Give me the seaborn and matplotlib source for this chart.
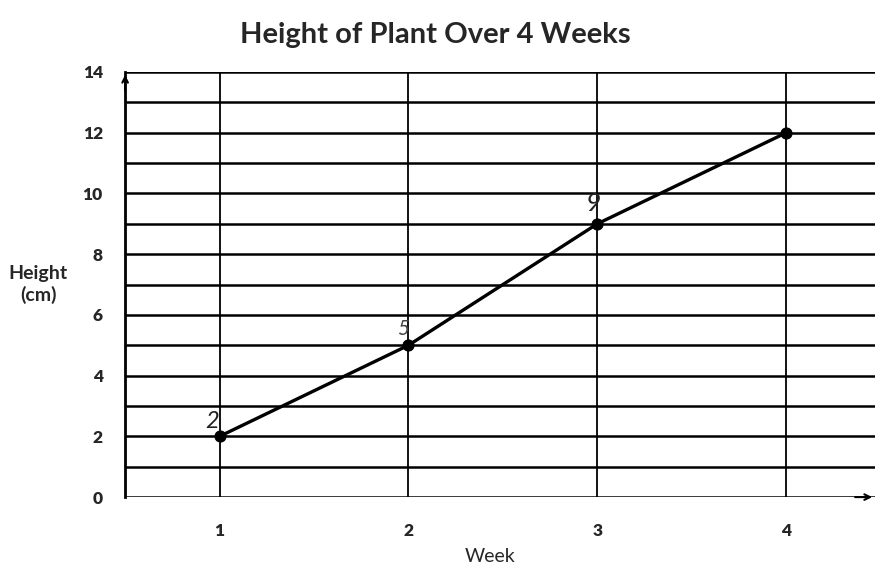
import numpy as np
import pandas as pd
import matplotlib
matplotlib.use("Agg")
import matplotlib.pyplot as plt
import seaborn as sns

# data
weeks = [1, 2, 3, 4]
heights = [2, 5, 9, 12]
notes = ["2", "5", "9"]   # hand-written labels next to the first three points
y_ticks = [0, 2, 4, 6, 8, 10, 12, 14]

df = pd.DataFrame({"Week": weeks, "Height": heights})

sns.set_style("white")
plt.rcParams['font.family'] = ['Lato', 'DejaVu Sans']

fig = plt.figure(figsize=(8.75, 5.76), dpi=100)
ax = fig.add_axes([0.143, 0.137, 0.857, 0.738])

# grid: a line every cm, one per week
for y in range(0, 15):
    ax.axhline(y, color='black', lw=1.8, zorder=1)
for w in weeks:
    ax.axvline(w, color='black', lw=1.3, zorder=1)

sns.lineplot(data=df, x="Week", y="Height", ax=ax, color='black', lw=2.4,
             marker='o', markersize=8, markeredgecolor='black', zorder=3)

# scribbled values
ax.text(weeks[0] - 0.04, heights[0] + 0.15, notes[0], fontsize=17, style='italic',
        ha='center', va='bottom', color='#222222', zorder=4)
ax.text(weeks[1] - 0.03, heights[1] + 0.2, notes[1], fontsize=15, style='italic',
        ha='center', va='bottom', color='#444444', zorder=4)
ax.text(weeks[2] - 0.02, heights[2] + 0.3, notes[2], fontsize=19, style='italic',
        ha='center', va='bottom', color='#222222', zorder=4)

ax.set_xlim(0.5, 4.47)
ax.set_ylim(0, 14)
ax.set_xticks(weeks)
ax.set_yticks(y_ticks)
ax.tick_params(axis='y', length=0, labelsize=12.5, pad=16)
ax.tick_params(axis='x', length=0, labelsize=12.5, pad=19)
for lab in ax.get_xticklabels() + ax.get_yticklabels():
    lab.set_fontweight('heavy')

for s in ['top', 'right', 'bottom']:
    ax.spines[s].set_visible(False)
ax.spines['left'].set_color('black')
ax.spines['left'].set_linewidth(2)

# arrow heads at the axis ends
ax.annotate('', xy=(0.5, 14.0), xytext=(0.5, 13.3),
            arrowprops=dict(arrowstyle='->', color='black', lw=1.5), annotation_clip=False)
ax.annotate('', xy=(4.47, 0), xytext=(4.35, 0),
            arrowprops=dict(arrowstyle='->', color='black', lw=1.5), annotation_clip=False)

ax.set_xlabel("")
fig.text(0.56, 0.033, "Week", fontsize=14, ha='center', va='center')
ax.set_ylabel("Height\n(cm)", fontsize=14, fontweight='bold', rotation=0,
              labelpad=32, va='center')
fig.text(0.498, 0.94, "Height of Plant Over 4 Weeks", fontsize=21,
         fontweight='bold', ha='center', va='center')

fig.savefig("out.png", dpi=100)
